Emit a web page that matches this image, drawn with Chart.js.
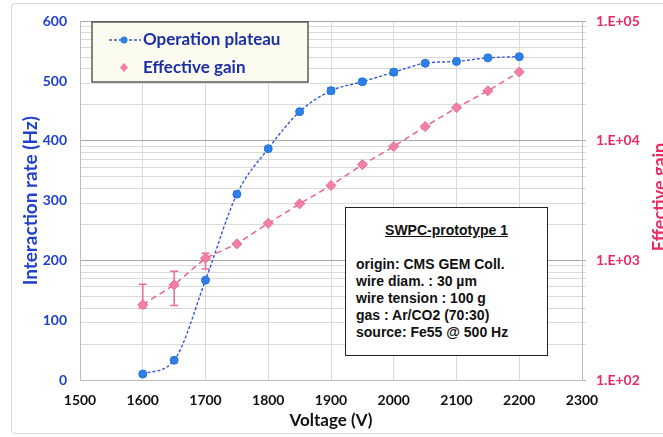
<!DOCTYPE html>
<html>
<head>
<meta charset="utf-8">
<script src="https://cdn.jsdelivr.net/npm/chart.js@4.4.0/dist/chart.umd.min.js"></script>
<style>
  html, body { margin: 0; padding: 0; background: #fff; }
  #wrap { position: relative; width: 663px; height: 437px; overflow: hidden; }
  #frame { position: absolute; left: 11px; top: 3px; width: 700px; height: 429px;
           border: 1px solid #d6d6d6; border-radius: 4px; }
  #chart { position: absolute; left: 0; top: 0; }
  #info { position: absolute; left: 345px; top: 207px; width: 203px; height: 149px;
          box-sizing: border-box; border: 1.5px solid #222; background: #fff;
          font-family: "Liberation Sans", Arial, sans-serif; font-weight: bold;
          font-size: 14px; color: #111; padding: 0 0 0 10px; }
  #info .title { text-align: center; text-decoration: underline; margin: 14px 10px 18px 0; }
  #info .line { line-height: 17px; }
</style>
</head>
<body>
<div id="wrap">
  <div id="frame"></div>
  <canvas id="chart" width="663" height="437"></canvas>
  <div id="info">
    <div class="title">SWPC-prototype 1</div>
    <div class="line">origin: CMS GEM Coll.</div>
    <div class="line">wire diam. : 30 µm</div>
    <div class="line">wire tension : 100 g</div>
    <div class="line">gas : Ar/CO2 (70:30)</div>
    <div class="line">source: Fe55 @ 500 Hz</div>
  </div>
</div>
<script>
// voltage points (V)
const voltages = [1600, 1650, 1700, 1750, 1800, 1850, 1900, 1950, 2000, 2050, 2100, 2150, 2200];
// operation plateau, interaction rate (Hz)
const rate = [10, 33, 167, 311, 387, 449, 484, 499, 515, 530, 533, 539, 541];
const rateErr = [0, 0, 0, 0, 0, 0, 5, 4, 5, 0, 0, 0, 0];
// effective gain (log axis)
const gain = [426, 625, 1046, 1377, 2046, 2978, 4236, 6330, 8980, 13180, 18970, 26240, 37740];
const gainLo = [400, 420, 849, null, null, null, null, null, null, null, null, null, null];
const gainHi = [631, 811, 1150, null, null, null, null, null, null, null, null, null, null];

const xTicks = [1500, 1600, 1700, 1800, 1900, 2000, 2100, 2200, 2300];
const rateTicks = [0, 100, 200, 300, 400, 500, 600];
const gainTicks = [];
for (let e = 2; e <= 4; e++) {
  for (let m = 1; m <= 9; m++) gainTicks.push(m * Math.pow(10, e));
}
gainTicks.push(100000);

const BLUE = "#1f3fcf";
const PINK = "#ea2a62";
const FONT = "Lato, 'Open Sans', sans-serif";

const isDecade = (v) => Math.abs(Math.log10(v) - Math.round(Math.log10(v))) < 1e-9;

const extras = {
  id: "extras",
  beforeDatasetsDraw(chart) {
    const ctx = chart.ctx;
    const x = chart.scales.x, y = chart.scales.y, y2 = chart.scales.y2;
    ctx.save();
    // error bars, effective gain
    ctx.strokeStyle = "#ec6a94";
    ctx.lineWidth = 1.5;
    voltages.forEach((v, i) => {
      if (gainHi[i] == null) return;
      const px = x.getPixelForValue(v);
      const top = y2.getPixelForValue(gainHi[i]);
      const bot = y2.getPixelForValue(gainLo[i]);
      ctx.beginPath();
      ctx.moveTo(px, top); ctx.lineTo(px, bot);
      ctx.moveTo(px - 4, top); ctx.lineTo(px + 4, top);
      ctx.moveTo(px - 4, bot); ctx.lineTo(px + 4, bot);
      ctx.stroke();
    });
    // error bars, rate
    ctx.strokeStyle = "#39c0e6";
    voltages.forEach((v, i) => {
      if (!rateErr[i]) return;
      const px = x.getPixelForValue(v);
      const top = y.getPixelForValue(rate[i] + rateErr[i]);
      const bot = y.getPixelForValue(rate[i] - rateErr[i]);
      ctx.beginPath();
      ctx.moveTo(px, top); ctx.lineTo(px, bot);
      ctx.moveTo(px - 4, top); ctx.lineTo(px + 4, top);
      ctx.moveTo(px - 4, bot); ctx.lineTo(px + 4, bot);
      ctx.stroke();
    });
    ctx.restore();
  },
  afterDraw(chart) {
    const ctx = chart.ctx;
    ctx.save();
    // right axis title, reading upward
    ctx.translate(651, 197);
    ctx.rotate(-Math.PI / 2);
    ctx.fillStyle = PINK;
    ctx.font = "bold 18px " + FONT;
    ctx.textAlign = "center";
    ctx.textBaseline = "top";
    ctx.fillText("Effective gain", 0, 0);
    ctx.restore();

    // legend box
    ctx.save();
    ctx.fillStyle = "#fcfbf0";
    ctx.strokeStyle = "#333";
    ctx.lineWidth = 1.2;
    ctx.fillRect(92, 22, 216, 60);
    ctx.strokeRect(92, 22, 216, 60);
    const ds = chart.data.datasets;
    // series 1 sample
    ctx.strokeStyle = ds[0].borderColor;
    ctx.lineWidth = 1.3;
    ctx.setLineDash([3, 2]);
    ctx.beginPath(); ctx.moveTo(109, 40); ctx.lineTo(141, 40); ctx.stroke();
    ctx.setLineDash([]);
    ctx.fillStyle = ds[0].pointBackgroundColor;
    ctx.beginPath(); ctx.arc(124, 40, 3.5, 0, Math.PI * 2); ctx.fill();
    // series 2 sample
    ctx.fillStyle = ds[1].pointBackgroundColor;
    ctx.beginPath();
    ctx.moveTo(124, 63); ctx.lineTo(128, 67.5); ctx.lineTo(124, 72); ctx.lineTo(120, 67.5);
    ctx.closePath(); ctx.fill();
    ctx.fillStyle = "#1a2ea8";
    ctx.font = "bold 17px " + FONT;
    ctx.textBaseline = "middle";
    ctx.fillText(ds[0].label, 143, 40);
    ctx.fillText(ds[1].label, 143, 68);
    ctx.restore();
  }
};

const tickFont = { family: FONT, size: 14, weight: "bold" };

new Chart(document.getElementById("chart"), {
  type: "line",
  data: {
    datasets: [
      {
        label: "Operation plateau",
        data: voltages.map((v, i) => ({ x: v, y: rate[i] })),
        yAxisID: "y",
        borderColor: "#3258d6",
        borderWidth: 1.4,
        borderDash: [3, 2],
        tension: 0.4,
        cubicInterpolationMode: "monotone",
        pointRadius: 4,
        pointBackgroundColor: "#2d80ea",
        pointBorderColor: "#2a6fd8",
        pointBorderWidth: 1,
        fill: false,
      },
      {
        label: "Effective gain",
        data: voltages.map((v, i) => ({ x: v, y: gain[i] })),
        yAxisID: "y2",
        borderColor: "#ee6390",
        borderWidth: 1.5,
        borderDash: [6, 4],
        tension: 0,
        pointStyle: "rectRot",
        pointRadius: 5,
        pointBackgroundColor: "#f47fa6",
        pointBorderColor: "#ec6a94",
        pointBorderWidth: 1,
        fill: false,
      },
    ],
  },
  options: {
    responsive: false,
    animation: false,
    layout: { padding: { top: 19, right: 0, bottom: 0, left: 0 } },
    plugins: {
      legend: { display: false },
      tooltip: { enabled: false },
    },
    scales: {
      x: {
        type: "linear",
        min: 1500,
        max: 2300,
        afterBuildTicks: (s) => { s.ticks = xTicks.map((v) => ({ value: v })); },
        afterFit: (s) => { s.height = 57; },
        grid: { color: "#d9d9d9", drawTicks: false },
        border: { color: "#bdbdbd" },
        ticks: { color: "#111", padding: 12, font: tickFont, callback: (v) => String(v) },
        title: {
          display: true,
          text: "Voltage (V)",
          color: "#111",
          padding: { top: 0, bottom: 6 },
          font: { family: FONT, size: 17, weight: "bold" },
        },
      },
      y: {
        position: "left",
        min: 0,
        max: 600,
        afterBuildTicks: (s) => { s.ticks = rateTicks.map((v) => ({ value: v })); },
        afterFit: (s) => { s.width = 80; },
        grid: { display: false, drawTicks: false },
        border: { display: true, color: "#bdbdbd" },
        ticks: { color: BLUE, padding: 13, font: tickFont },
        title: {
          display: true,
          text: "Interaction rate (Hz)",
          color: BLUE,
          padding: { top: 19, bottom: 0 },
          font: { family: FONT, size: 19, weight: "bold" },
        },
      },
      y2: {
        type: "logarithmic",
        position: "right",
        min: 100,
        max: 100000,
        afterBuildTicks: (s) => { s.ticks = gainTicks.map((v) => ({ value: v })); },
        afterFit: (s) => { s.width = 81; },
        grid: {
          drawOnChartArea: true,
          tickLength: 4,
          color: (c) => (c.tick && isDecade(c.tick.value) ? "#a8a8a8" : "#dadada"),
        },
        border: { color: "#bdbdbd" },
        ticks: {
          autoSkip: false,
          color: PINK,
          padding: 10,
          font: tickFont,
          callback: (v) => (isDecade(v) ? "1.E+0" + Math.round(Math.log10(v)) : ""),
        },
      },
    },
  },
  plugins: [extras],
});
</script>
</body>
</html>
